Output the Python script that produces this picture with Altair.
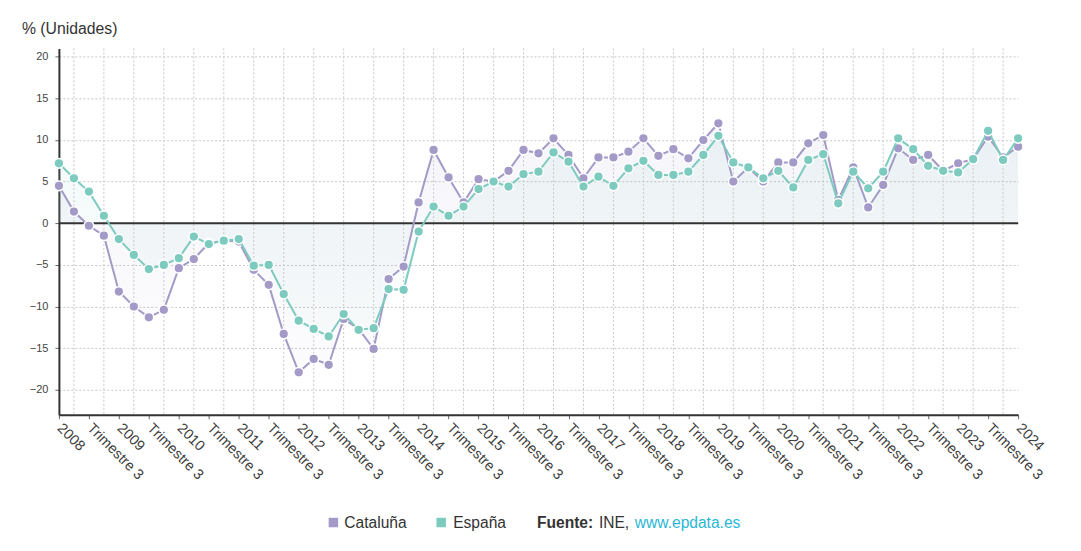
import json
import altair as alt
import pandas as pd

# ---- data ----
cataluna = [4.5, 1.4, -0.3, -1.5, -8.2, -10.0, -11.3, -10.4, -5.4, -4.3,
            -2.4, -2.1, -2.2, -5.6, -7.4, -13.3, -17.9, -16.3, -17.0, -11.5,
            -12.7, -15.1, -6.7, -5.2, 2.5, 8.8, 5.5, 2.5, 5.3, 5.0,
            6.3, 8.8, 8.4, 10.2, 8.2, 5.4, 7.9, 7.9, 8.6, 10.2,
            8.1, 8.9, 7.8, 10.0, 12.0, 5.0, 6.7, 5.0, 7.3, 7.3,
            9.6, 10.6, 2.8, 6.7, 1.9, 4.6, 9.0, 7.6, 8.2, 6.3,
            7.2, 7.7, 10.4, 7.9, 9.2]
espana = [7.2, 5.4, 3.8, 0.9, -1.9, -3.8, -5.5, -5.0, -4.2, -1.6,
          -2.5, -2.1, -1.9, -5.1, -5.0, -8.5, -11.7, -12.7, -13.6, -10.9,
          -12.8, -12.6, -7.9, -8.0, -1.0, 2.0, 0.9, 2.0, 4.1, 5.0,
          4.4, 5.9, 6.2, 8.5, 7.4, 4.4, 5.6, 4.5, 6.6, 7.5,
          5.8, 5.8, 6.2, 8.2, 10.5, 7.3, 6.7, 5.4, 6.3, 4.3,
          7.6, 8.3, 2.4, 6.2, 4.2, 6.2, 10.2, 8.9, 6.9, 6.3,
          6.1, 7.7, 11.1, 7.6, 10.2]
etiquetas = ["2008", "Trimestre 3", "2009", "Trimestre 3", "2010", "Trimestre 3",
             "2011", "Trimestre 3", "2012", "Trimestre 3", "2013", "Trimestre 3",
             "2014", "Trimestre 3", "2015", "Trimestre 3", "2016", "Trimestre 3",
             "2017", "Trimestre 3", "2018", "Trimestre 3", "2019", "Trimestre 3",
             "2020", "Trimestre 3", "2021", "Trimestre 3", "2022", "Trimestre 3",
             "2023", "Trimestre 3", "2024"]
series = ["Cataluña", "España"]
colores = ["#a39ac8", "#7dcbbf"]
colores_rgb = ["163,154,200", "125,203,191"]
y_ticks = [-20, -15, -10, -5, 0, 5, 10, 15, 20]

n = len(cataluna)
FONT = "Liberation Sans"

df_cat = pd.DataFrame({"i": list(range(n)), "v": cataluna})
df_esp = pd.DataFrame({"i": list(range(n)), "v": espana})
df_grid = pd.DataFrame({"i": list(range(1, n, 2))})
df_zero = pd.DataFrame({"v": [0]})

x_scale = alt.Scale(domain=[0, n - 1], nice=False, zero=False)
y_scale = alt.Scale(domain=[-23, 21], nice=False, zero=False)
x_axis = alt.Axis(
    values=list(range(0, n, 2)),
    labelExpr=json.dumps(etiquetas) + "[round(datum.value/2)]",
    labelAngle=45, labelAlign="left", labelBaseline="middle",
    labelFontSize=14.5, labelColor="#3d3d3d", labelFont=FONT, labelPadding=7,
    grid=False, domainColor="#333", domainWidth=2,
    tickColor="#666", tickSize=4, title=None, labelOverlap=False,
)
y_axis = alt.Axis(
    values=y_ticks, grid=True, gridColor="#c8c8c8", gridDash=[2, 2],
    labelFontSize=11, labelColor="#444", labelFont=FONT, labelPadding=7,
    domainColor="#333", domainWidth=2, tickColor="#666", tickSize=4,
    title=None,
)
x_enc = alt.X("i:Q", scale=x_scale, axis=x_axis)
y_enc = alt.Y("v:Q", scale=y_scale, axis=y_axis)

grid_v = alt.Chart(df_grid).mark_rule(color="#c8c8c8", strokeDash=[2, 2], strokeWidth=1).encode(
    x=x_enc
)
zero = alt.Chart(df_zero).mark_rule(color="#333", strokeWidth=2).encode(y=y_enc)


def area(df, rgb):
    grad = alt.Gradient(
        gradient="linear", x1=0, x2=0, y1=0, y2=1,
        stops=[alt.GradientStop(color=f"rgba({rgb},0.10)", offset=0),
               alt.GradientStop(color=f"rgba({rgb},0.03)", offset=1)],
    )
    return alt.Chart(df).mark_area(color=grad).encode(
        x=x_enc, y=y_enc, y2=alt.datum(0)
    )


def line(df, c):
    return alt.Chart(df).mark_line(color=c, strokeWidth=2).encode(x=x_enc, y=y_enc)


def pts(df, c):
    return alt.Chart(df).mark_point(filled=True, fill=c, stroke="white", strokeWidth=1.5,
                                    size=95, opacity=1, shape="circle").encode(x=x_enc, y=y_enc)


def texto(t, px, py, size=15.6, color="#333", weight="normal"):
    return alt.Chart(pd.DataFrame({"t": [t]})).mark_text(
        align="left", baseline="middle", fontSize=size, color=color, font=FONT,
        fontWeight=weight
    ).encode(x=alt.value(px), y=alt.value(py), text="t:N")


def cuadro(c, px, py):
    return alt.Chart(pd.DataFrame({"t": [0]})).mark_square(
        size=90, opacity=1, filled=True, color=c
    ).encode(x=alt.value(px), y=alt.value(py))


titulo = texto("% (Unidades)", -37, -19, size=15.8)

chart = alt.layer(
    area(df_cat, colores_rgb[0]),
    area(df_esp, colores_rgb[1]),
    grid_v,
    zero,
    line(df_cat, colores[0]),
    pts(df_cat, colores[0]),
    line(df_esp, colores[1]),
    pts(df_esp, colores[1]),
    titulo,
    cuadro(colores[0], 275, 475), texto(series[0], 286, 475),
    cuadro(colores[1], 383, 475), texto(series[1], 395, 475),
    texto("Fuente:", 479, 475, weight="bold"),
    texto("INE,", 541, 475),
    texto("www.epdata.es", 577, 475, color="#2bb7d6"),
).properties(
    width=961, height=367,
    padding={"left": 51, "top": 40, "right": 55, "bottom": 120},
    autosize=alt.AutoSizeParams(type="none"),
    background="white",
).configure_view(stroke=None)

chart.save("out.html", embed_options={"renderer": "svg", "actions": False})
